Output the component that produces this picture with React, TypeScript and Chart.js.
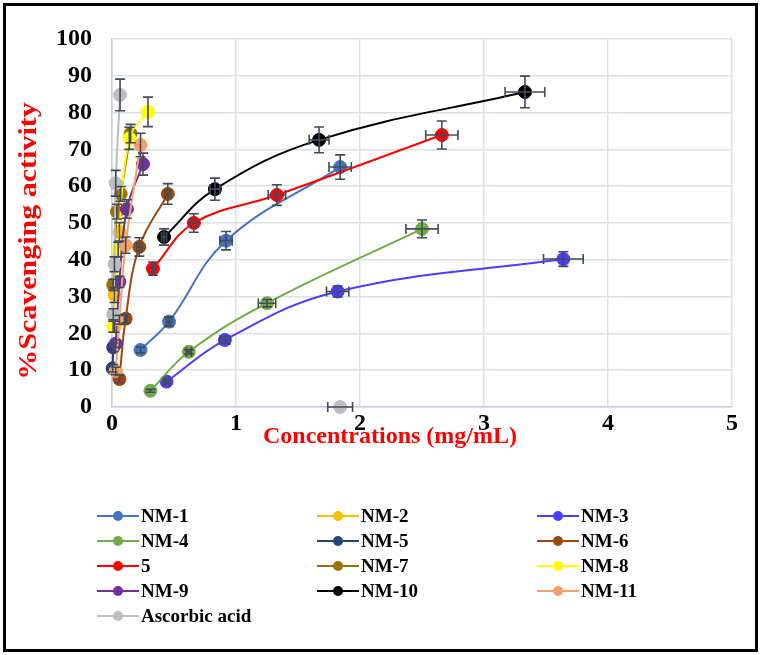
import React, { useEffect, useRef } from "react";
import { Chart, registerables } from "chart.js";

Chart.register(...registerables);

// ---------- data ----------
const seriesNames = [
  "NM-1", "NM-2", "NM-3",
  "NM-4", "NM-5", "NM-6",
  "5", "NM-7", "NM-8",
  "NM-9", "NM-10", "NM-11",
  "Ascorbic acid",
];
const seriesColors = [
  "#4472C4", "#FFC000", "#4B3CFF",
  "#70AD47", "#264478", "#9E480E",
  "#FF0000", "#997300", "#FFFF00",
  "#7030A0", "#000000", "#F4A26B",
  "#BDBDBD",
];

const nm1X = [0.23, 0.46, 0.92, 1.84];
const nm1Y = [15.5, 23.2, 45.2, 65.2];
const nm1XErr = [0, 0.02, 0.05, 0.09];
const nm1YErr = [0.8, 1.3, 2.5, 3.3];

const nm2X = [0.02, 0.02, 0.06];
const nm2Y = [21.8, 30.4, 47.6];
const nm2XErr = [0, 0, 0];
const nm2YErr = [1.5, 2, 2.5];

const nm3X = [0.44, 0.91, 1.82, 3.64];
const nm3Y = [6.9, 18.2, 31.4, 40.2];
const nm3XErr = [0.02, 0.04, 0.09, 0.16];
const nm3YErr = [0.6, 0.9, 1.5, 2.0];

const nm4X = [0.31, 0.62, 1.25, 2.5];
const nm4Y = [4.4, 15.0, 28.2, 48.4];
const nm4XErr = [0, 0.02, 0.07, 0.13];
const nm4YErr = [0.4, 0.6, 1.0, 2.4];

const nm5X = [0.005, 0.01];
const nm5Y = [10.5, 16.2];
const nm5XErr = [0, 0];
const nm5YErr = [1, 1.2];

const nm6X = [0.06, 0.11, 0.22, 0.45];
const nm6Y = [7.6, 24.0, 43.5, 57.9];
const nm6XErr = [0, 0.01, 0.02, 0.02];
const nm6YErr = [1, 1.2, 2.5, 2.8];

const c5X = [0.33, 0.66, 1.33, 2.66];
const c5Y = [37.6, 50.0, 57.6, 73.9];
const c5XErr = [0.01, 0.03, 0.07, 0.13];
const c5YErr = [1.8, 2.5, 2.8, 3.8];

const nm7X = [0.01, 0.04, 0.07, 0.15];
const nm7Y = [33.2, 53.1, 57.9, 74.3];
const nm7XErr = [0, 0, 0, 0];
const nm7YErr = [1.5, 2, 2, 2.5];

const nm8X = [0.01, 0.05, 0.14, 0.29];
const nm8Y = [21.8, 42.8, 73.0, 80.2];
const nm8XErr = [0, 0, 0, 0];
const nm8YErr = [1.5, 2, 3, 4];

const nm9X = [0.03, 0.06, 0.12, 0.25];
const nm9Y = [17.2, 34.0, 53.8, 66.0];
const nm9XErr = [0, 0, 0, 0];
const nm9YErr = [1, 1.5, 2.5, 3];

const nm10X = [0.42, 0.83, 1.67, 3.33];
const nm10Y = [46.2, 59.2, 72.6, 85.6];
const nm10XErr = [0.02, 0.04, 0.08, 0.16];
const nm10YErr = [2.2, 3, 3.5, 4.3];

const nm11X = [0.03, 0.06, 0.11, 0.23];
const nm11Y = [9.8, 23.7, 44.0, 71.2];
const nm11XErr = [0, 0, 0, 0];
const nm11YErr = [1, 1.2, 2.2, 3.2];

const ascX = [0.01, 0.02, 0.03, 0.065];
const ascY = [25.2, 38.8, 60.8, 84.8];
const ascXErr = [0, 0, 0, 0];
const ascYErr = [1.5, 2, 3.5, 4.3];

// stray ascorbic acid point drawn without a connecting line
const ascStrayX = [1.84];
const ascStrayY = [0];
const ascStrayXErr = [0.1];
const ascStrayYErr = [0];

const seriesX = [nm1X, nm2X, nm3X, nm4X, nm5X, nm6X, c5X, nm7X, nm8X, nm9X, nm10X, nm11X, ascX];
const seriesY = [nm1Y, nm2Y, nm3Y, nm4Y, nm5Y, nm6Y, c5Y, nm7Y, nm8Y, nm9Y, nm10Y, nm11Y, ascY];
const seriesXErr = [nm1XErr, nm2XErr, nm3XErr, nm4XErr, nm5XErr, nm6XErr, c5XErr, nm7XErr, nm8XErr, nm9XErr, nm10XErr, nm11XErr, ascXErr];
const seriesYErr = [nm1YErr, nm2YErr, nm3YErr, nm4YErr, nm5YErr, nm6YErr, c5YErr, nm7YErr, nm8YErr, nm9YErr, nm10YErr, nm11YErr, ascYErr];

const xTicks = [0, 1, 2, 3, 4, 5];
const yTicks = [0, 10, 20, 30, 40, 50, 60, 70, 80, 90, 100];

const xTitle = "Concentrations (mg/mL)";
const yTitle = "%Scavenging activity";

const FONT = "'Liberation Serif', 'Times New Roman', serif";

// ---------- plugins ----------
const errorBarPlugin = {
  id: "errorBars",
  afterDatasetsDraw(chart: any) {
    const ctx = chart.ctx;
    const xs = chart.scales.x;
    const ys = chart.scales.y;
    const cap = 5;
    ctx.save();
    ctx.strokeStyle = "#414B59";
    ctx.lineWidth = 1.6;
    chart.data.datasets.forEach((ds: any) => {
      const xe = ds.errX || [];
      const ye = ds.errY || [];
      ds.data.forEach((p: any, i: number) => {
        const px = xs.getPixelForValue(p.x);
        const py = ys.getPixelForValue(p.y);
        const ex = xe[i] || 0;
        const ey = ye[i] || 0;
        ctx.beginPath();
        if (ey > 0) {
          const t = ys.getPixelForValue(p.y + ey);
          const b = ys.getPixelForValue(p.y - ey);
          ctx.moveTo(px, t); ctx.lineTo(px, b);
          ctx.moveTo(px - cap, t); ctx.lineTo(px + cap, t);
          ctx.moveTo(px - cap, b); ctx.lineTo(px + cap, b);
        }
        if (ex > 0) {
          const l = xs.getPixelForValue(p.x - ex);
          const r = xs.getPixelForValue(p.x + ex);
          ctx.moveTo(l, py); ctx.lineTo(r, py);
          ctx.moveTo(l, py - cap); ctx.lineTo(l, py + cap);
          ctx.moveTo(r, py - cap); ctx.lineTo(r, py + cap);
        }
        ctx.stroke();
      });
    });
    ctx.restore();
  },
};

const decorPlugin = {
  id: "decor",
  afterDraw(chart: any) {
    const ctx = chart.ctx;
    ctx.save();
    // axis titles
    ctx.fillStyle = "#FF0000";
    ctx.font = `bold 24px ${FONT}`;
    ctx.textAlign = "center";
    ctx.textBaseline = "middle";
    ctx.fillText(xTitle, 390, 437);
    ctx.save();
    ctx.font = `bold 25px ${FONT}`;
    ctx.translate(30, 241);
    ctx.rotate(-Math.PI / 2);
    ctx.scale(1.2, 1);
    ctx.fillText(yTitle, 0, 0);
    ctx.restore();

    // legend (3 columns)
    const colX = [97, 317, 537];
    const rowTop = 516;
    const rowGap = 25;
    const lineLen = 42;
    ctx.font = `bold 19px ${FONT}`;
    ctx.textAlign = "left";
    ctx.textBaseline = "middle";
    seriesNames.forEach((name, i) => {
      const x0 = colX[i % 3];
      const y = rowTop + Math.floor(i / 3) * rowGap;
      const color = seriesColors[i];
      ctx.strokeStyle = color;
      ctx.lineWidth = 2;
      ctx.beginPath();
      ctx.moveTo(x0, y);
      ctx.lineTo(x0 + lineLen, y);
      ctx.stroke();
      ctx.fillStyle = color;
      ctx.beginPath();
      ctx.arc(x0 + lineLen / 2, y, 5, 0, Math.PI * 2);
      ctx.fill();
      ctx.fillStyle = "#000000";
      ctx.fillText(name, x0 + lineLen + 2, y + 1);
    });
    ctx.restore();
  },
};

// ---------- component ----------
export default function App() {
  const canvasRef = useRef<HTMLCanvasElement | null>(null);

  useEffect(() => {
    const canvas = canvasRef.current;
    if (!canvas) return;

    const n = seriesNames.length;
    const datasets: any[] = seriesNames.map((name, i) => ({
      label: name,
      data: seriesX[i].map((x, j) => ({ x, y: seriesY[i][j] })),
      errX: seriesXErr[i],
      errY: seriesYErr[i],
      showLine: true,
      tension: 0.4,
      borderColor: seriesColors[i],
      backgroundColor: seriesColors[i],
      borderWidth: 2,
      pointRadius: 6.5,
      pointBorderWidth: 1,
      pointBorderColor: seriesColors[i],
      pointBackgroundColor: seriesColors[i],
      clip: false,
      order: n - i,
    }));
    datasets.push({
      label: "Ascorbic acid (stray)",
      data: ascStrayX.map((x, j) => ({ x, y: ascStrayY[j] })),
      errX: ascStrayXErr,
      errY: ascStrayYErr,
      showLine: false,
      borderColor: seriesColors[12],
      backgroundColor: seriesColors[12],
      pointRadius: 6.5,
      pointBackgroundColor: seriesColors[12],
      pointBorderColor: seriesColors[12],
      clip: false,
      order: 0,
    });

    const tickFont = { family: FONT, size: 24, weight: "bold" as const };

    const chart = new Chart(canvas, {
      type: "scatter",
      data: { datasets },
      options: {
        animation: false,
        responsive: false,
        events: [],
        devicePixelRatio: 1,
        layout: { padding: { top: 39, right: 32, left: 0, bottom: 0 } },
        plugins: {
          legend: { display: false },
          tooltip: { enabled: false },
          title: { display: false },
        },
        scales: {
          x: {
            type: "linear",
            min: xTicks[0],
            max: xTicks[xTicks.length - 1],
            afterBuildTicks: (scale: any) => {
              scale.ticks = xTicks.map((v) => ({ value: v }));
            },
            afterFit: (scale: any) => {
              scale.height = 248;
            },
            ticks: {
              color: "#000000",
              font: tickFont,
              padding: 2,
              maxRotation: 0,
            },
            grid: { color: "#DCE1E7", lineWidth: 1.5, drawTicks: false },
            border: { color: "#C5D0DD", width: 1.5 },
          },
          y: {
            type: "linear",
            min: yTicks[0],
            max: yTicks[yTicks.length - 1],
            afterBuildTicks: (scale: any) => {
              scale.ticks = yTicks.map((v) => ({ value: v }));
            },
            afterFit: (scale: any) => {
              scale.width = 112;
            },
            ticks: {
              color: "#000000",
              font: tickFont,
              padding: 20,
            },
            grid: { color: "#DCE1E7", lineWidth: 1.5, drawTicks: false },
            border: { color: "#C5D0DD", width: 1.5 },
          },
        },
      },
      plugins: [errorBarPlugin, decorPlugin],
    });

    return () => chart.destroy();
  }, []);

  return (
    <div
      style={{
        position: "fixed",
        left: 0,
        top: 0,
        width: 764,
        height: 655,
        background: "#FFFFFF",
      }}
    >
      <canvas ref={canvasRef} width={764} height={655} style={{ display: "block" }} />
      <div
        style={{
          position: "absolute",
          left: 3,
          top: 3,
          width: 755,
          height: 649,
          boxSizing: "border-box",
          border: "3px solid #000000",
          pointerEvents: "none",
        }}
      />
    </div>
  );
}
